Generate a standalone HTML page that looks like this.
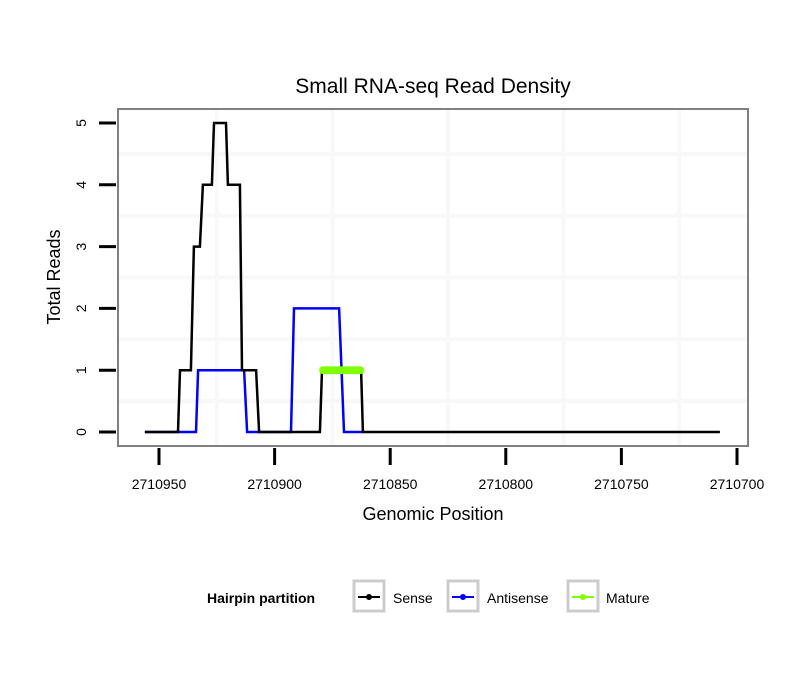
<!DOCTYPE html>
<html><head><meta charset="utf-8"><style>
body{margin:0;background:#fff}
svg{display:block;font-family:"Liberation Sans",sans-serif}
</style></head><body>
<svg id="chart" width="810" height="690" viewBox="0 0 810 690">
<rect width="810" height="690" fill="#fff"/>
<text x="433" y="93" font-size="21" text-anchor="middle">Small RNA-seq Read Density</text>
<g id="grid"></g>
<g id="series"></g>
<rect x="118" y="109" width="630" height="337" fill="none" stroke="#808080" stroke-width="2"/>
<g id="axes"></g>
<text x="433" y="520" font-size="18" text-anchor="middle">Genomic Position</text>
<text transform="translate(60,277) rotate(-90)" font-size="18" text-anchor="middle">Total Reads</text>
<g font-size="14">
<text x="207" y="603" font-weight="bold">Hairpin partition</text>
<g>
<rect x="354" y="581" width="30" height="30" fill="#fff" stroke="#ccc" stroke-width="3"/>
<line x1="358" y1="597" x2="380" y2="597" stroke="#000" stroke-width="2"/><circle cx="369" cy="597" r="3" fill="#000"/>
<text x="393" y="603">Sense</text></g>
<g>
<rect x="448" y="581" width="30" height="30" fill="#fff" stroke="#ccc" stroke-width="3"/>
<line x1="452" y1="597" x2="474" y2="597" stroke="#00f" stroke-width="2"/><circle cx="463" cy="597" r="3" fill="#00f"/>
<text x="487" y="603">Antisense</text></g>
<g>
<rect x="568" y="581" width="30" height="30" fill="#fff" stroke="#ccc" stroke-width="3"/>
<line x1="572" y1="597" x2="594" y2="597" stroke="#7fff00" stroke-width="2"/><circle cx="583" cy="597" r="3" fill="#7fff00"/>
<text x="606" y="603">Mature</text></g>
</g>
</svg>
<script>
const xTicks=[2710950,2710900,2710850,2710800,2710750,2710700];
const yTicks=[0,1,2,3,4,5];
const senseX=[2710956.1,2710941.8,2710940.9,2710936.2,2710934.9,2710932.3,2710931,2710927.1,2710926.2,2710921,2710920.2,2710915,2710914.1,2710908,2710906.7,2710880.4,2710879.5,2710862.6,2710861.8,2710707.4];
const senseY=[0,0,1,1,3,3,4,4,5,5,4,4,1,1,0,0,1,1,0,0];
const antiX=[2710956.1,2710934,2710933.1,2710913.2,2710911.9,2710892.9,2710891.6,2710872.1,2710870,2710862];
const antiY=[0,0,1,1,0,0,2,2,0,0];
const matureX=[2710879,2710878,2710877,2710876,2710875,2710874,2710873,2710872,2710871,2710870,2710869,2710868,2710867,2710866,2710865,2710864,2710863];
const matureY=[1,1,1,1,1,1,1,1,1,1,1,1,1,1,1,1,1];
const NS="http://www.w3.org/2000/svg";
const px=v=>159+(2710950-v)*(578/250);
const py=v=>432-v*61.8;
function mk(t,a,p){const e=document.createElementNS(NS,t);for(const k in a)e.setAttribute(k,a[k]);p.appendChild(e);return e;}
const grid=document.getElementById('grid'),axes=document.getElementById('axes'),ser=document.getElementById('series');
mk('rect',{x:118,y:109,width:630,height:337,fill:'#fff'},grid);
for(let v=2710975;v>=2710675;v-=50){const x=px(v);if(x<118||x>748)continue;
 const l=mk('line',{x1:x,x2:x,y1:109,y2:446,stroke:'#f8f8f8','stroke-width':4},grid);
 
 }
for(let v=-0.5;v<=5.5;v+=1){const y=py(v);if(y<109||y>446)continue;
 const l=mk('line',{x1:118,x2:748,y1:y,y2:y,stroke:'#f8f8f8','stroke-width':4},grid);
 
 }
xTicks.forEach(v=>{const x=px(v);
 const t=mk('line',{x1:x,x2:x,y1:448,y2:465,stroke:'#000','stroke-width':3},axes);
 
 
 const tx=mk('text',{x:x,y:489,'font-size':14,'text-anchor':'middle'},axes);tx.textContent=v;
 
 });
yTicks.forEach(v=>{const y=py(v);
 const t=mk('line',{x1:99,x2:116,y1:y,y2:y,stroke:'#000','stroke-width':3},axes);
 
 
 const tx=mk('text',{transform:`translate(86,${y}) rotate(-90)`,'font-size':14,'text-anchor':'middle'},axes);tx.textContent=v;
 
 });
function line(X,Y,c,name,w){const d=X.map((x,i)=>(i?'L':'M')+px(x).toFixed(1)+','+py(Y[i]).toFixed(1)).join('');
 const p=mk('path',{d:d,fill:'none',stroke:c,'stroke-width':w},ser);
 
 }
line(antiX,antiY,'#00f','antisense-line',2.5);
line(senseX,senseY,'#000','sense-line',2.5);
line(matureX,matureY,'#7fff00','mature-line',3);
matureX.forEach((x,i)=>{const c=mk('circle',{cx:px(x),cy:py(matureY[i]),r:4,fill:'#7fff00'},ser);
 
 });
</script>
</body></html>
